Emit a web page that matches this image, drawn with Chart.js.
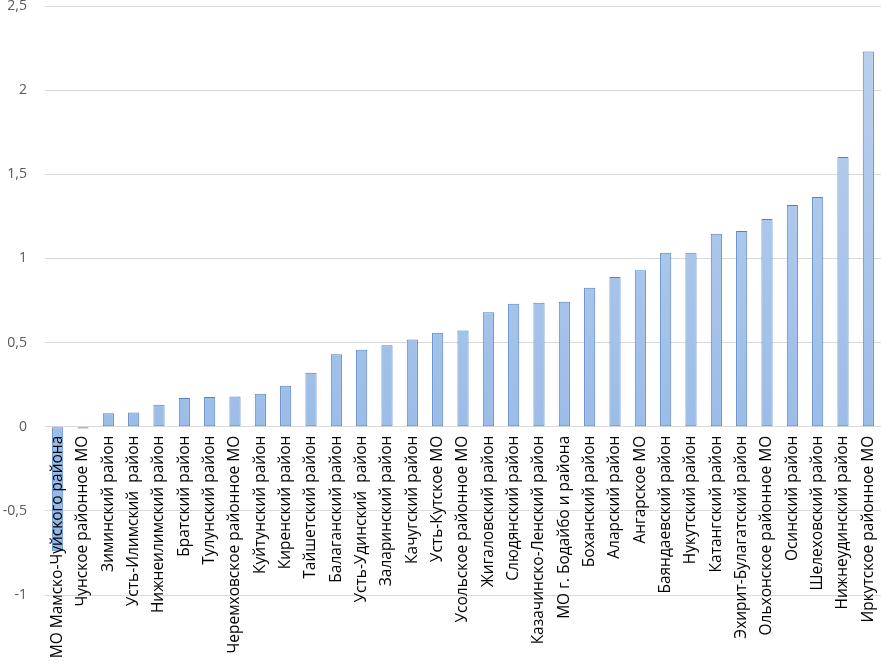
<!DOCTYPE html>
<html>
<head>
<meta charset="utf-8">
<script src="https://cdn.jsdelivr.net/npm/chart.js@4/dist/chart.umd.min.js"></script>
<style>
  html, body { margin: 0; padding: 0; background: #fff; }
  #wrap { width: 881px; height: 665px; }
</style>
</head>
<body>
<div id="wrap"><canvas id="rankChart"></canvas></div>
<script>
const districts = [
  "МО Мамско-Чуйского района", "Чунское районное МО", "Зиминский район",
  "Усть-Илимский  район", "Нижнеилимский район", "Братский район",
  "Тулунский район", "Черемховское районное МО", "Куйтунский район",
  "Киренский район", "Тайшетский район", "Балаганский район",
  "Усть-Удинский  район", "Заларинский район", "Качугский район",
  "Усть-Кутское МО", "Усольское районное МО", "Жигаловский район",
  "Слюдянский район", "Казачинско-Ленский район", "МО г. Бодайбо и района",
  "Боханский район", "Аларский район", "Ангарское МО",
  "Баяндаевский район", "Нукутский район", "Катангский район",
  "Эхирит-Булагатский район", "Ольхонское районное МО", "Осинский район",
  "Шелеховский район", "Нижнеудинский район", "Иркутское районное МО"
];
const scores = [
  -0.74, -0.01, 0.08, 0.085, 0.13, 0.17,
  0.177, 0.18, 0.196, 0.244, 0.32, 0.43,
  0.458, 0.484, 0.518, 0.558, 0.571, 0.68,
  0.73, 0.736, 0.742, 0.826, 0.89, 0.93,
  1.034, 1.034, 1.147, 1.163, 1.234, 1.317,
  1.365, 1.603, 2.23
];
const yMin = -1, yMax = 2.5, yStep = 0.5;

function barFill(context) {
  const area = context.chart.chartArea;
  if (!area) return '#a7c3eb';
  const g = context.chart.ctx.createLinearGradient(0, area.top, 0, area.bottom);
  g.addColorStop(0, '#bcd2ef');
  g.addColorStop(1, '#8fb4e5');
  return g;
}

// drop the automatic edge padding so the plot fills the frame like the original
function noPad(s) {
  s.paddingLeft = 0; s.paddingRight = 0;
  s.paddingTop = 0; s.paddingBottom = 0;
}

const ctx = document.getElementById('rankChart').getContext('2d');
const rankChart = new Chart(ctx, {
  type: 'bar',
  data: {
    labels: districts,
    datasets: [{
      data: scores,
      backgroundColor: barFill,
      borderColor: '#4f81c4',
      borderWidth: 1,
      borderSkipped: false,
      categoryPercentage: 1,
      barPercentage: 0.44
    }]
  },
  options: {
    responsive: true,
    maintainAspectRatio: false,
    animation: false,
    layout: { padding: { top: 6, bottom: 70, left: 0, right: 0 } },
    plugins: { legend: { display: false }, tooltip: { enabled: false } },
    scales: {
      x: {
        position: { y: 0 },
        afterFit: noPad,
        grid: { display: false, drawTicks: false },
        border: { display: false },
        ticks: {
          z: 1,
          autoSkip: false,
          minRotation: 90,
          maxRotation: 90,
          padding: 9,
          color: '#000',
          font: { family: 'Open Sans', size: 15.5 }
        }
      },
      y: {
        min: yMin,
        max: yMax,
        grid: { color: '#d9d9d9', drawTicks: false },
        border: { display: false },
        afterFit: (s) => { noPad(s); s.width = 45; },
        ticks: {
          stepSize: yStep,
          padding: 18,
          color: '#595959',
          font: { family: 'Open Sans', size: 14 },
          callback: (v) => String(v).replace('.', ',')
        }
      }
    }
  }
});
</script>
</body>
</html>
